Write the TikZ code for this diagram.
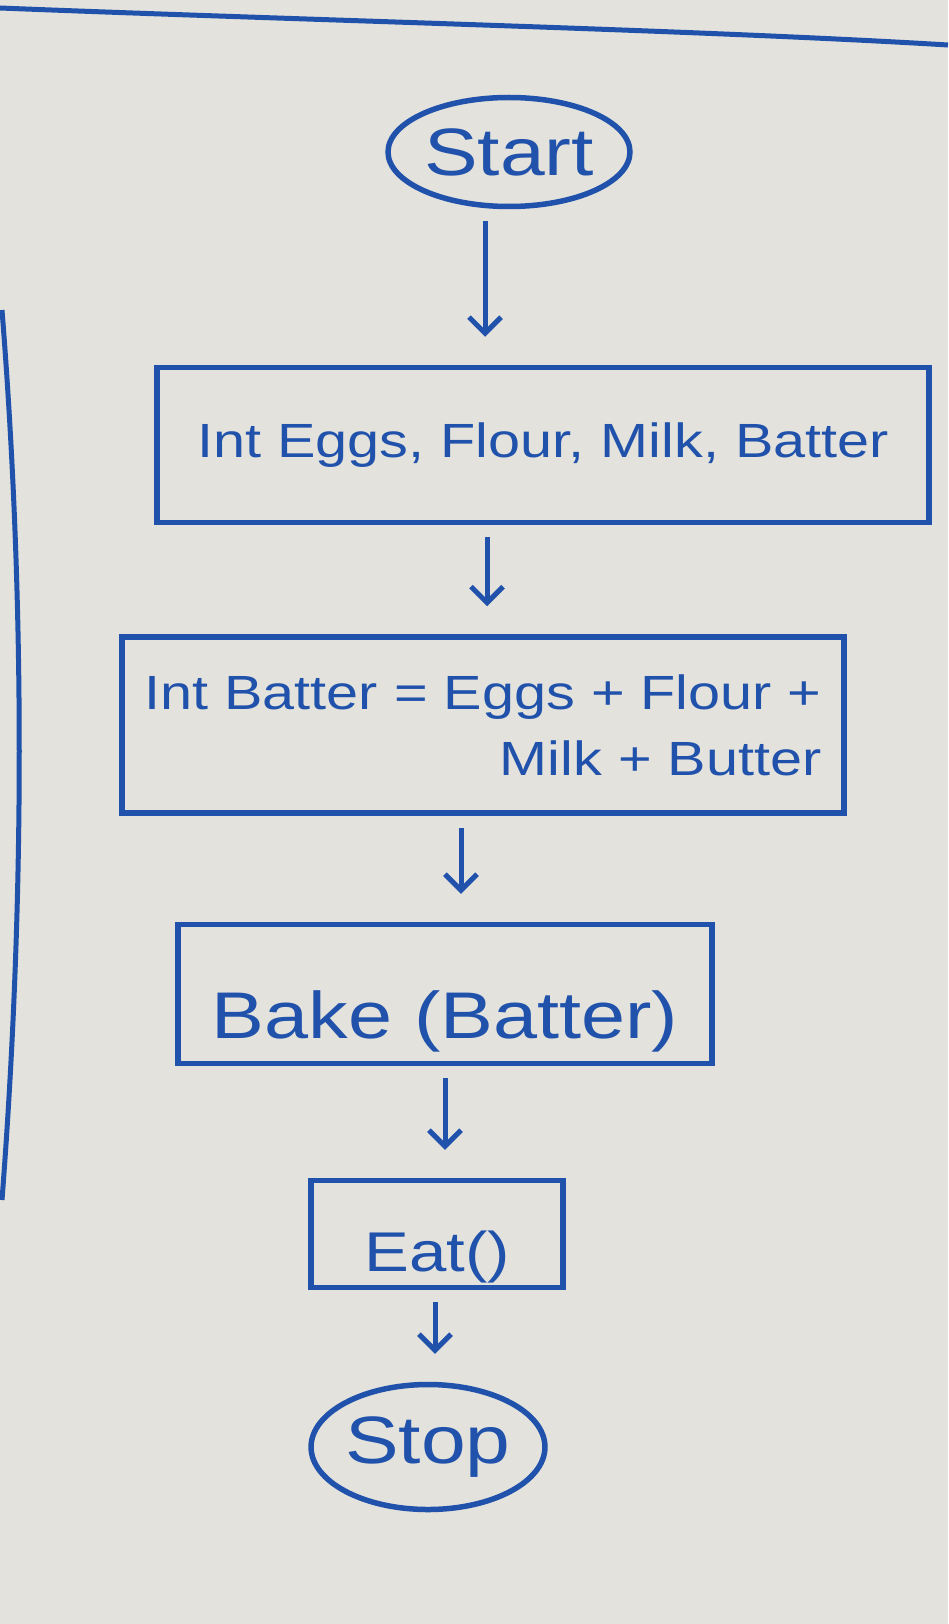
\documentclass[tikz,border=0pt]{standalone}
\usepackage{fontspec}
\setmainfont[FakeStretch=1.2]{Liberation Sans}
\usetikzlibrary{shapes.geometric, arrows.meta}
\definecolor{ink}{RGB}{32,82,172}
\definecolor{paper}{RGB}{228,226,220}

\begin{document}
\begin{tikzpicture}[x=1pt, y=-1pt,
every node/.style={ink, line width=5.5pt, draw=ink},
terminal/.style={ellipse, inner sep=0pt, font=\fontsize{67}{76}\selectfont},
process/.style={rectangle, inner sep=0pt, font=\fontsize{48}{66}\selectfont},
big/.style={font=\fontsize{66}{76}\selectfont, text depth=0pt},
flow/.style={ink, line width=5pt, ->, >={Straight Barb[length=16pt, width=32pt]}, shorten <=12pt, shorten >=28pt}
]
\fill[paper] (0,0) rectangle (948,1624);
\useasboundingbox (0,0) rectangle (948,1624);

% page lines
\draw[ink, line width=5pt] (0,8) .. controls (300,20) and (700,30) .. (948,45);
\draw[ink, line width=5pt] (2,310) .. controls (25,600) and (25,900) .. (2,1200);

\node[terminal, minimum width=242pt, minimum height=109pt] (start) at (509,152) {Start};
\node[process, minimum width=772pt, minimum height=155pt] (declare) at (543,445)
    {Int Eggs, Flour, Milk, Batter};
\node[process, minimum width=722pt, minimum height=176pt, align=right] (mix) at (483,725)
    {Int Batter = Eggs + Flour +\\Milk + Butter};
\node[process, big, text height=88pt, minimum width=534pt, minimum height=139pt] (bake) at (445,994) {Bake (Batter)};
\node[process, big, font=\fontsize{56}{66}\selectfont, text height=74pt, minimum width=252pt, minimum height=107pt] (eat) at (437,1234) {Eat()};
\node[terminal, minimum width=230pt, minimum height=125pt] (stop) at (428,1447) {Stop};

\draw[flow] (start.south -| 485,0) -- (declare.north -| 485,0);
\draw[flow] (declare.south -| 487,0) -- (mix.north -| 487,0);
\draw[flow] (mix.south -| 461,0) -- (bake.north -| 461,0);
\draw[flow] (bake.south -| 445,0) -- (eat.north -| 445,0);
\draw[flow] (eat.south -| 435,0) -- (stop.north -| 435,0);
\end{tikzpicture}
\end{document}
